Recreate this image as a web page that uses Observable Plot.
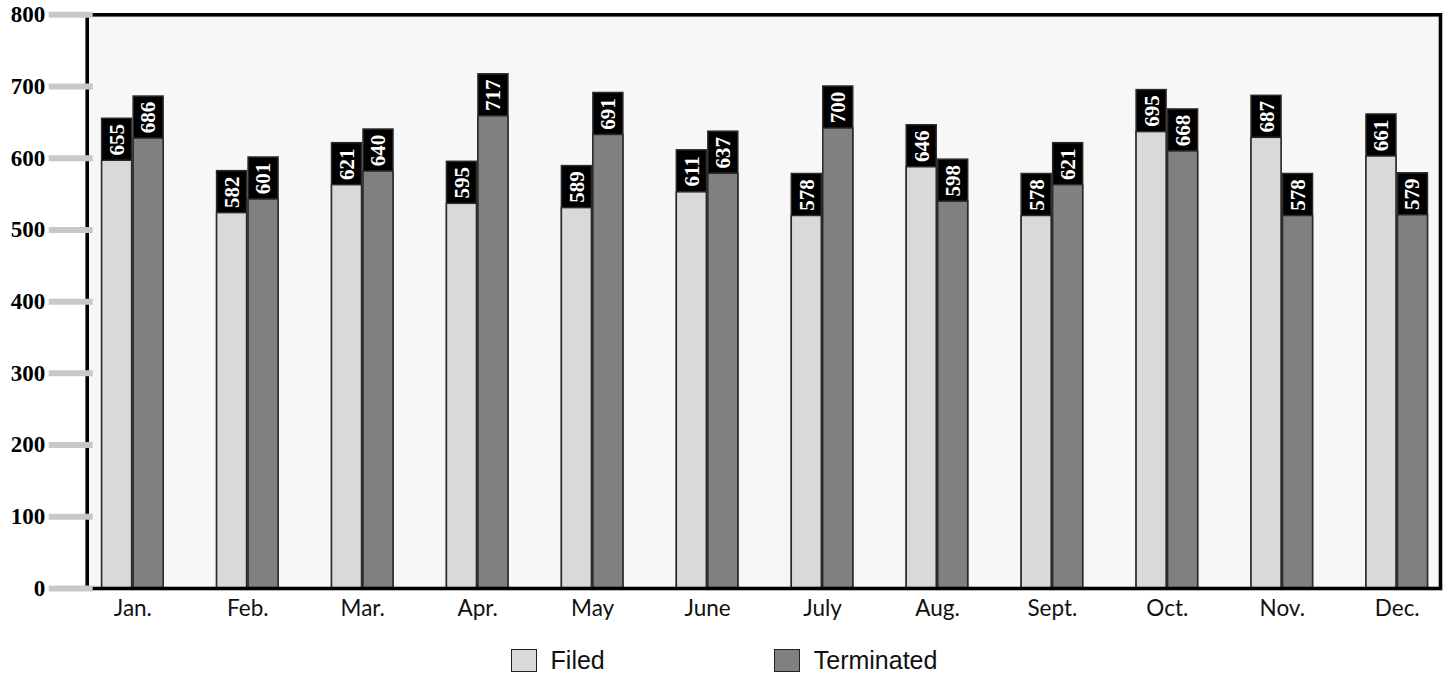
<!DOCTYPE html>
<html>
<head>
<meta charset="utf-8">
<script src="https://cdn.jsdelivr.net/npm/d3@7"></script>
<script src="https://cdn.jsdelivr.net/npm/@observablehq/plot@0.6"></script>
<style>
  html, body { margin: 0; padding: 0; background: #ffffff; }
  #chart svg { display: block; overflow: visible; }
  #legend {
    display: flex; justify-content: center; align-items: center;
    gap: 169px; height: 28px; margin-top: 16px;
    font-family: "Liberation Sans", Arial, sans-serif; font-size: 25px; color: #111;
  }
  .item { display: flex; align-items: center; }
  .sw { width: 26px; height: 23px; box-sizing: border-box; border: 1.6px solid #222; margin-right: 14px; }
</style>
</head>
<body>
<div id="chart"></div>
<div id="legend"></div>
<script>
const months = ["Jan.", "Feb.", "Mar.", "Apr.", "May", "June", "July", "Aug.", "Sept.", "Oct.", "Nov.", "Dec."];
const filed = [655, 582, 621, 595, 589, 611, 578, 646, 578, 695, 687, 661];
const terminated = [686, 601, 640, 717, 691, 637, 700, 598, 621, 668, 578, 579];
const yTicks = [0, 100, 200, 300, 400, 500, 600, 700, 800];
const seriesNames = ["Filed", "Terminated"];
const seriesColors = ["#d9d9d9", "#808080"];

const rows = months.map((m, i) => ({month: m, filed: filed[i], terminated: terminated[i]}));

const barStroke = "#2a2a2a";
const labelFont = {fill: "white", fontFamily: "Liberation Serif, serif", fontWeight: "bold", fontSize: 21, rotate: -90, dy: 21};

const chart = Plot.plot({
  width: 1448,
  height: 630,
  marginLeft: 86.7,
  marginRight: 8,
  marginTop: 14.3,
  marginBottom: 42,
  style: {background: "transparent", overflow: "visible"},
  x: {domain: months, range: [74.9, 1454.2], paddingInner: 0.465, paddingOuter: 0.2325, round: false, axis: null},
  y: {domain: [0, 800], axis: null},
  marks: [
    Plot.frame({fill: "#f7f7f7", stroke: null}),
    // Filed bars: black cap + light body
    Plot.barY(rows, {x: "month", y: "filed", fill: "black", stroke: barStroke, strokeWidth: 1.5, insetRight: 31.5}),
    Plot.barY(rows, {x: "month", y: "filed", fill: seriesColors[0], stroke: barStroke, strokeWidth: 1.5, insetRight: 31.5, insetTop: 42}),
    // Terminated bars
    Plot.barY(rows, {x: "month", y: "terminated", fill: "black", stroke: barStroke, strokeWidth: 1.5, insetLeft: 31.5}),
    Plot.barY(rows, {x: "month", y: "terminated", fill: seriesColors[1], stroke: barStroke, strokeWidth: 1.5, insetLeft: 31.5, insetTop: 42}),
    // Value labels
    Plot.text(rows, {x: "month", y: "filed", text: d => String(d.filed), dx: -15.5, ...labelFont}),
    Plot.text(rows, {x: "month", y: "terminated", text: d => String(d.terminated), dx: 15.5, ...labelFont}),
    Plot.frame({stroke: "black", strokeWidth: 3.6}),
    Plot.axisY({
      ticks: yTicks, tickFormat: d => String(d), label: null,
      tickSize: 44, dx: 6, tickPadding: 4,
      stroke: "#c8c8c8", strokeWidth: 6, fill: "black",
      fontFamily: "Liberation Serif, serif", fontWeight: "bold", fontSize: 23
    }),
    Plot.axisX({
      tickSize: 0, tickPadding: 12, fill: "#111", label: null,
      fontFamily: "Lato, sans-serif", fontSize: 22.5
    })
  ]
});
document.getElementById("chart").appendChild(chart);

const legend = document.getElementById("legend");
seriesNames.forEach((name, i) => {
  const item = document.createElement("div");
  item.className = "item";
  const sw = document.createElement("div");
  sw.className = "sw";
  sw.style.background = seriesColors[i];
  const label = document.createElement("span");
  label.textContent = name;
  item.appendChild(sw);
  item.appendChild(label);
  legend.appendChild(item);
});
</script>
</body>
</html>
